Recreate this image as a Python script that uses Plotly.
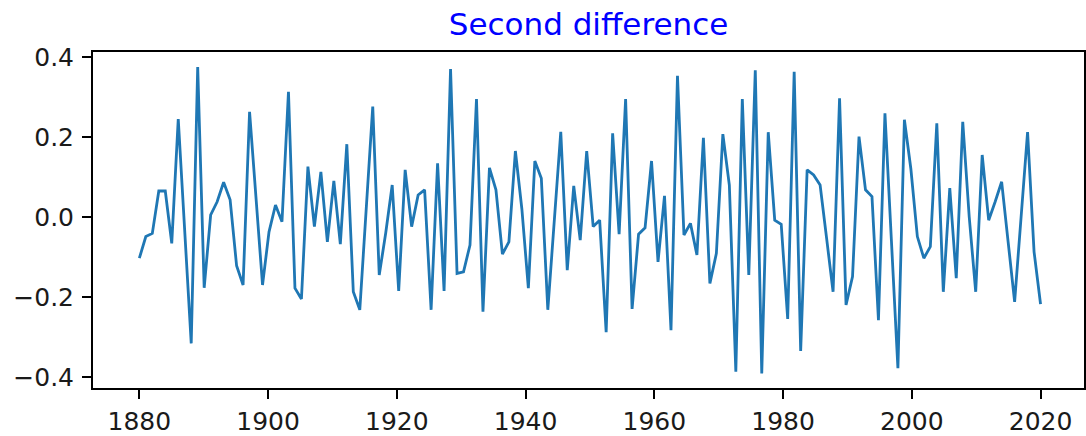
import numpy as np
import plotly.graph_objects as go

values = [
    -0.103, -0.049, -0.041, 0.065, 0.065, -0.066, 0.245, -0.04, -0.316, 0.375,
    -0.177, 0.005, 0.038, 0.087, 0.043, -0.122, -0.17, 0.263, 0.05, -0.17,
    -0.037, 0.03, -0.012, 0.313, -0.178, -0.205, 0.126, -0.024, 0.113, -0.062,
    0.09, -0.068, 0.182, -0.187, -0.232, 0.02, 0.276, -0.145, -0.04, 0.08,
    -0.185, 0.118, -0.024, 0.055, 0.068, -0.232, 0.134, -0.185, 0.37, -0.141,
    -0.137, -0.07, 0.295, -0.237, 0.123, 0.068, -0.093, -0.062, 0.165, 0.02,
    -0.178, 0.14, 0.097, -0.232, -0.01, 0.213, -0.133, 0.078, -0.058, 0.165,
    -0.024, -0.008, -0.288, 0.209, -0.043, 0.295, -0.23, -0.043, -0.027, 0.14,
    -0.112, 0.053, -0.283, 0.353, -0.045, -0.016, -0.095, 0.198, -0.166, -0.091,
    0.207, 0.08, -0.387, 0.295, -0.145, 0.367, -0.391, 0.212, -0.008, -0.018,
    -0.255, 0.363, -0.335, 0.118, 0.105, 0.08, -0.053, -0.187, 0.297, -0.22,
    -0.149, 0.201, 0.068, 0.051, -0.258, 0.259, -0.06, -0.378, 0.243, 0.12,
    -0.049, -0.103, -0.074, 0.234, -0.187, 0.072, -0.153, 0.238, 0.0, -0.187,
    0.155, -0.008, 0.038, 0.088, -0.062, -0.212, 0.0, 0.212, -0.087, -0.218,
]
start_year = 1880
end_year = 2020
x_ticks = [1880, 1900, 1920, 1940, 1960, 1980, 2000, 2020]
y_ticks = [-0.4, -0.2, 0.0, 0.2, 0.4]
title_text = "Second difference"

x = np.linspace(start_year, end_year, len(values))

fig = go.Figure()
fig.add_trace(go.Scatter(x=x, y=values, mode="lines",
                         line=dict(color="#1f77b4", width=2.8),
                         showlegend=False, hoverinfo="skip"))

font_family = "DejaVu Sans"
W, H = 1086, 436
ml, mr, mt, mb = 93, 2, 52, 48
fig.update_layout(
    width=W, height=H,
    margin=dict(l=ml, r=mr, t=mt, b=mb, autoexpand=False),
    paper_bgcolor="white", plot_bgcolor="white",
    font=dict(family=font_family, size=25, color="black"),
    title=dict(text=title_text, x=0.5, xref="paper",
               y=1 - 24 / H, yref="container", xanchor="center", yanchor="middle",
               font=dict(family=font_family, size=31, color="blue")),
)
axis_common = dict(ticks="outside", ticklen=9, tickwidth=2, tickcolor="black",
                   showline=True, linecolor="black", linewidth=2, mirror=True,
                   showgrid=False, zeroline=False, automargin=False,
                   tickfont=dict(family=font_family, size=25, color="#1a1a1a"))
fig.update_xaxes(range=[1872.8, 2026.75], tickvals=x_ticks, ticklabelstandoff=1,
                 **axis_common)
fig.update_yaxes(range=[-0.4275, 0.4125], tickvals=y_ticks, tickformat=".1f",
                 ticklabelstandoff=3, **axis_common)

fig.write_html("out.html")
